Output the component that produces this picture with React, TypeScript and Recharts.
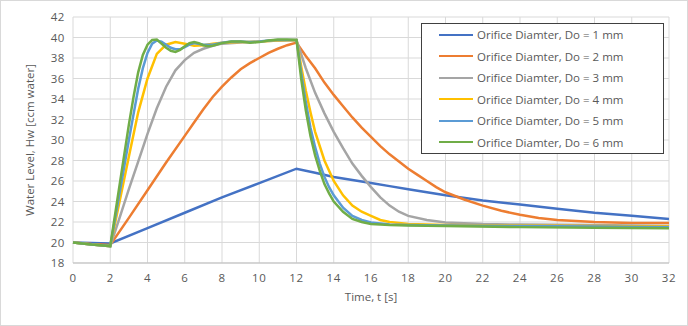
import React from 'react'
import { LineChart, Line, XAxis, YAxis, CartesianGrid } from 'recharts'

// Excel-ish palette
const C1 = '#4472C4'
const C2 = '#ED7D31'
const C3 = '#A5A5A5'
const C4 = '#FFC000'
const C5 = '#5B9BD5'
const C6 = '#70AD47'

const FONT = '"Open Sans", "Noto Sans", sans-serif'
const TICK = '#595959'

const X_TICKS = [0, 2, 4, 6, 8, 10, 12, 14, 16, 18, 20, 22, 24, 26, 28, 30, 32]
const Y_TICKS = [18, 20, 22, 24, 26, 28, 30, 32, 34, 36, 38, 40, 42]

// Do = 1 mm
const T1 = [0, 1, 2, 4, 6, 8, 10, 12, 13, 14, 15, 16, 17, 18, 19, 20, 22, 24, 26, 28, 30, 32]
const H1 = [20, 19.95, 19.9, 21.4, 22.9, 24.4, 25.8, 27.2, 26.8, 26.4, 26.1, 25.8, 25.5, 25.2, 24.9, 24.6, 24.1, 23.7, 23.3, 22.9, 22.6, 22.3]

// Do = 2 mm
const T2 = [0, 1, 2, 3, 4, 5, 6, 6.5, 7, 7.5, 8, 8.5, 9, 9.5, 10, 10.5, 11, 11.5, 12, 12.5, 13, 13.5, 14, 14.5, 15, 15.5, 16, 16.5, 17, 17.5, 18, 18.5, 19, 19.5, 20, 21, 22, 23, 24, 25, 26, 27, 28, 30, 32]
const H2 = [20, 19.85, 19.75, 22.4, 25.1, 27.8, 30.4, 31.7, 33.0, 34.2, 35.2, 36.1, 36.9, 37.5, 38.0, 38.5, 38.9, 39.25, 39.5, 38.2, 37.0, 35.6, 34.4, 33.3, 32.2, 31.2, 30.3, 29.4, 28.6, 27.9, 27.2, 26.6, 26.0, 25.4, 24.9, 24.2, 23.6, 23.1, 22.7, 22.4, 22.2, 22.1, 22.0, 21.9, 21.9]

// Do = 3 mm
const T3 = [0, 1, 2, 2.5, 3, 3.5, 4, 4.5, 5, 5.5, 6, 6.5, 7, 7.5, 8, 9, 10, 11, 12, 12.5, 13, 13.5, 14, 14.5, 15, 15.5, 16, 16.5, 17, 17.5, 18, 19, 20, 22, 24, 28, 32]
const H3 = [20, 19.8, 19.65, 22.4, 25.2, 27.9, 30.6, 33.1, 35.2, 36.8, 37.8, 38.5, 38.9, 39.2, 39.4, 39.5, 39.6, 39.7, 39.75, 37.0, 34.6, 32.6, 30.8, 29.2, 27.7, 26.5, 25.4, 24.4, 23.6, 23.0, 22.6, 22.2, 21.95, 21.8, 21.75, 21.7, 21.6]

// Do = 4 mm
const T4 = [0, 1, 2, 2.5, 3, 3.5, 4, 4.5, 5, 5.5, 6, 6.5, 7, 7.5, 8, 9, 10, 11, 12, 12.1, 12.25, 12.5, 12.75, 13, 13.5, 14, 14.5, 15, 15.5, 16, 16.5, 17, 18, 20, 24, 28, 32]
const H4 = [20, 19.8, 19.65, 24.0, 28.4, 32.7, 36.0, 38.4, 39.3, 39.55, 39.4, 39.2, 39.25, 39.4, 39.5, 39.55, 39.6, 39.7, 39.75, 38.8, 37.2, 34.8, 32.7, 30.8, 28.0, 26.0, 24.6, 23.6, 23.0, 22.6, 22.2, 22.0, 21.8, 21.7, 21.65, 21.6, 21.55]

// Do = 5 mm
const T5 = [0, 1, 2, 2.5, 3, 3.25, 3.5, 3.75, 4, 4.25, 4.5, 4.75, 5, 5.25, 5.5, 5.75, 6, 6.25, 6.5, 7, 7.5, 8, 8.5, 9, 9.5, 10, 10.5, 11, 12, 12.1, 12.25, 12.5, 12.75, 13, 13.25, 13.5, 13.75, 14, 14.5, 15, 15.5, 16, 17, 18, 20, 24, 28, 32]
const H5 = [20, 19.8, 19.65, 24.8, 30.0, 32.5, 35.0, 37.0, 38.5, 39.4, 39.7, 39.6, 39.3, 39.0, 38.85, 38.85, 39.05, 39.3, 39.45, 39.3, 39.3, 39.5, 39.6, 39.6, 39.55, 39.6, 39.7, 39.75, 39.75, 38.6, 36.6, 33.7, 31.2, 29.3, 27.7, 26.4, 25.4, 24.6, 23.4, 22.6, 22.2, 21.95, 21.75, 21.7, 21.65, 21.6, 21.55, 21.5]

// Do = 6 mm
const T6 = [0, 1, 2, 2.5, 3, 3.25, 3.5, 3.75, 4, 4.25, 4.5, 4.75, 5, 5.25, 5.5, 5.75, 6, 6.25, 6.5, 6.75, 7, 7.25, 7.5, 8, 8.5, 9, 9.5, 10, 10.5, 11, 11.5, 12, 12.1, 12.25, 12.5, 12.75, 13, 13.25, 13.5, 13.75, 14, 14.5, 15, 15.5, 16, 17, 18, 20, 24, 28, 32]
const H6 = [20, 19.8, 19.65, 25.6, 31.5, 34.2, 36.6, 38.3, 39.3, 39.75, 39.8, 39.4, 39.0, 38.7, 38.6, 38.8, 39.15, 39.45, 39.55, 39.45, 39.25, 39.15, 39.2, 39.45, 39.6, 39.6, 39.5, 39.55, 39.7, 39.8, 39.8, 39.75, 38.3, 36.0, 32.9, 30.4, 28.5, 27.0, 25.7, 24.8, 24.0, 23.0, 22.3, 22.0, 21.8, 21.7, 21.65, 21.6, 21.5, 21.45, 21.4]

const zip = (t: number[], h: number[]) => t.map((x, i) => ({ t: x, h: h[i] }))

const SERIES = [
  { name: 'Orifice Diamter, Do = 1 mm', color: C1, data: zip(T1, H1) },
  { name: 'Orifice Diamter, Do = 2 mm', color: C2, data: zip(T2, H2) },
  { name: 'Orifice Diamter, Do = 3 mm', color: C3, data: zip(T3, H3) },
  { name: 'Orifice Diamter, Do = 4 mm', color: C4, data: zip(T4, H4) },
  { name: 'Orifice Diamter, Do = 5 mm', color: C5, data: zip(T5, H5) },
  { name: 'Orifice Diamter, Do = 6 mm', color: C6, data: zip(T6, H6) },
]

// legend drawn as an overlay box, like Excel's
function BoxLegend() {
  return (
    <div style={{ position: 'absolute', left: 420, top: 22, width: 243, height: 131, border: '1.5px solid #404040', background: '#fff', boxSizing: 'border-box' }}>
      {SERIES.map((s) => (
        <div key={s.name} style={{ display: 'flex', alignItems: 'center', height: 21.5 }}>
          <span style={{ display: 'inline-block', marginLeft: 17, width: 34, height: 2, background: s.color }} />
          <span style={{ marginLeft: 4, fontFamily: FONT, fontSize: 11.5, color: TICK, whiteSpace: 'nowrap' }}>{s.name}</span>
        </div>
      ))}
    </div>
  )
}

export default function App() {
  return (
    <div style={{ position: 'fixed', left: 0, top: 0, width: 688, height: 326, background: '#fff', border: '1px solid #d9d9d9', boxSizing: 'border-box' }}>
      <LineChart width={686} height={324} margin={{ top: 16, right: 18, left: 11, bottom: 22 }}>
        <CartesianGrid stroke="#d9d9d9" strokeWidth={1} />
        <XAxis
          type="number"
          dataKey="t"
          domain={[0, 32]}
          ticks={X_TICKS}
          interval={0}
          height={40}
          tickLine={false}
          axisLine={{ stroke: '#bfbfbf' }}
          tick={{ fill: TICK, fontSize: 11.5, fontFamily: FONT, letterSpacing: 0.6 }}
          tickMargin={5}
          allowDuplicatedCategory={false}
          label={{
            content: ({ viewBox }: any) => (
              <text x={viewBox.x + viewBox.width / 2} y={viewBox.y + 38} textAnchor="middle" fill={TICK} fontSize={11.5} fontFamily={FONT}>
                Time, t [s]
              </text>
            ),
          }}
        />
        <YAxis
          type="number"
          domain={[18, 42]}
          ticks={Y_TICKS}
          interval={0}
          width={61}
          tickLine={false}
          axisLine={false}
          tick={{ fill: TICK, fontSize: 11.5, fontFamily: FONT, letterSpacing: 0.6 }}
          label={{
            content: ({ viewBox }: any) => {
              const cx = 28
              const cy = viewBox.y + viewBox.height / 2
              return (
                <text x={cx} y={cy} transform={`rotate(-90 ${cx} ${cy})`} textAnchor="middle" dominantBaseline="central" fill={TICK} fontSize={11.5} fontFamily={FONT}>
                  Water Level, Hw [ccm water]
                </text>
              )
            },
          }}
        />
        {SERIES.map((s) => (
          <Line
            key={s.name}
            data={s.data}
            dataKey="h"
            name={s.name}
            type="linear"
            stroke={s.color}
            strokeWidth={2.5}
            dot={false}
            activeDot={false}
            isAnimationActive={false}
          />
        ))}
      </LineChart>
      <BoxLegend />
    </div>
  )
}
